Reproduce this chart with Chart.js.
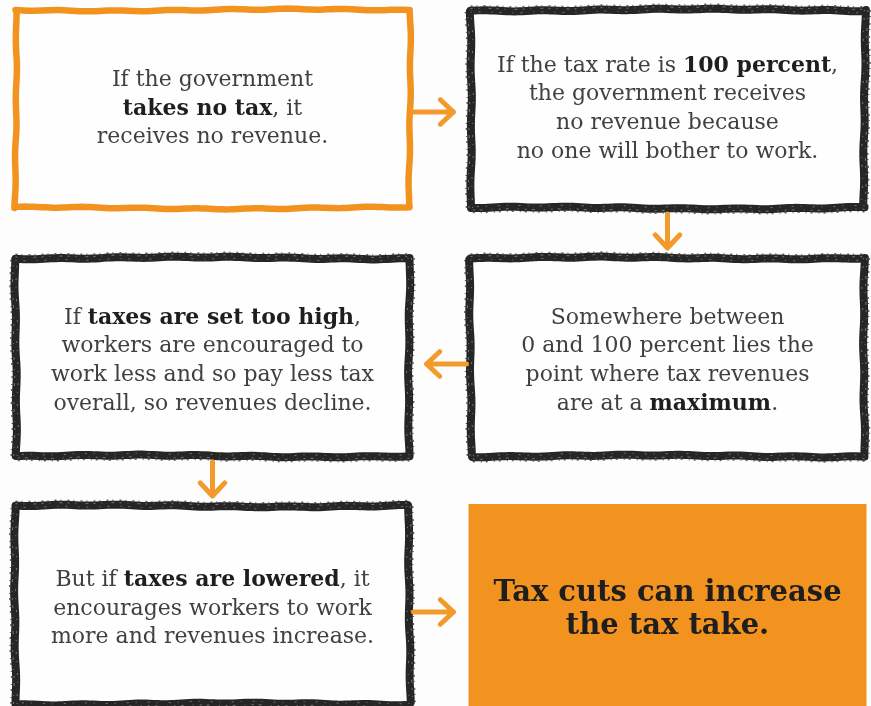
<!DOCTYPE html>
<html>
<head>
<meta charset="utf-8">
<script src="https://cdn.jsdelivr.net/npm/chart.js@4"></script>
<style>
  html, body { margin: 0; padding: 0; background: #fdfdfd; }
  #wrap { width: 871px; height: 706px; position: relative; }
</style>
</head>
<body>
<div id="wrap"><canvas id="flow"></canvas></div>
<script>
// box texts (** marks bold runs), one entry per line
const boxLines = [
  ["If the government", "**takes no tax**, it", "receives no revenue."],
  ["If the tax rate is **100 percent**,", "the government receives", "no revenue because", "no one will bother to work."],
  ["If **taxes are set too high**,", "workers are encouraged to", "work less and so pay less tax", "overall, so revenues decline."],
  ["Somewhere between", "0 and 100 percent lies the", "point where tax revenues", "are at a **maximum**."],
  ["But if **taxes are lowered**, it", "encourages workers to work", "more and revenues increase."],
  ["Tax cuts can increase", "the tax take."]
];
// grid cell of each box
const boxCol = [0, 1, 0, 1, 0, 1];
const boxRow = [0, 0, 1, 1, 2, 2];
const boxKind = ["orange", "chalk", "chalk", "chalk", "chalk", "filled"];
// arrows: from box -> to box
const arrowFrom = [0, 1, 3, 2, 4];
const arrowTo = [1, 3, 2, 4, 5];

const ORANGE = "#f3931f";
const INK = "#262626";
const HALF_W = 197, HALF_H = 99;
const TEXT_DY = [0, 4, 4]; // per row nudge of the text block

// small deterministic wobble
const wob = (t, s) => Math.sin(t * 0.11 + s) * 0.5 + Math.sin(t * 0.017 + s * 2.3) * 0.9;

function wavyLine(ctx, x0, y0, x1, y1, seed, off) {
  const len = Math.hypot(x1 - x0, y1 - y0);
  const nx = -(y1 - y0) / len, ny = (x1 - x0) / len;
  ctx.beginPath();
  for (let t = 0; t <= len; t += 4) {
    const f = t / len, o = wob(t, seed) + (off || 0);
    const x = x0 + (x1 - x0) * f + nx * o, y = y0 + (y1 - y0) * f + ny * o;
    if (t === 0) ctx.moveTo(x, y); else ctx.lineTo(x, y);
  }
  ctx.stroke();
}

function roughRect(ctx, l, t, r, b, kind, seed) {
  const sides = [[l, t, r, t], [r, t, r, b], [r, b, l, b], [l, b, l, t]];
  ctx.save();
  ctx.lineCap = "round";
  if (kind === "orange") {
    ctx.strokeStyle = ORANGE;
    ctx.lineWidth = 6.5;
    sides.forEach((s, i) => wavyLine(ctx, s[0], s[1], s[2], s[3], seed + i * 1.7));
  } else {
    ctx.strokeStyle = INK;
    ctx.lineWidth = 8;
    sides.forEach((s, i) => wavyLine(ctx, s[0], s[1], s[2], s[3], seed + i * 1.7));
    // chalky texture inside the stroke
    ctx.lineCap = "butt";
    ctx.lineWidth = 1;
    ctx.strokeStyle = "rgba(170,170,170,0.6)";
    ctx.setLineDash([2, 6, 1, 9, 3, 5]);
    sides.forEach((s, i) => wavyLine(ctx, s[0], s[1], s[2], s[3], seed + i * 1.7, -2));
    ctx.setLineDash([1, 7, 2, 11]);
    ctx.strokeStyle = "rgba(200,200,200,0.5)";
    sides.forEach((s, i) => wavyLine(ctx, s[0], s[1], s[2], s[3], seed + i * 1.7, 1.5));
    // ragged outer fringe
    ctx.setLineDash([2, 4, 1, 6]);
    ctx.strokeStyle = "rgba(40,40,40,0.7)";
    ctx.lineWidth = 1.5;
    sides.forEach((s, i) => wavyLine(ctx, s[0], s[1], s[2], s[3], seed + i * 1.7, -4.5));
  }
  ctx.restore();
}

function richLine(ctx, line, cx, y, size, color, boldAll) {
  const parts = line.split("**").map((txt, i) => ({ txt, bold: boldAll || i % 2 === 1 }));
  const fontOf = (b) => (b ? "bold " : "") + size + "px 'DejaVu Serif'";
  let w = 0;
  parts.forEach((p) => { ctx.font = fontOf(p.bold); p.w = ctx.measureText(p.txt).width; w += p.w; });
  let x = cx - w / 2;
  parts.forEach((p) => {
    ctx.font = fontOf(p.bold);
    ctx.fillStyle = p.bold ? "#1e1e1e" : color;
    ctx.fillText(p.txt, x, y);
    x += p.w;
  });
}

function arrow(ctx, x0, y0, x1, y1) {
  const a = Math.atan2(y1 - y0, x1 - x0);
  ctx.save();
  ctx.strokeStyle = "#f39a2c";
  ctx.lineWidth = 5;
  ctx.lineCap = "round";
  ctx.lineJoin = "round";
  ctx.beginPath();
  ctx.moveTo(x0, y0);
  ctx.lineTo(x1, y1);
  ctx.moveTo(x1 - 18 * Math.cos(a - 0.75), y1 - 18 * Math.sin(a - 0.75));
  ctx.lineTo(x1, y1);
  ctx.lineTo(x1 - 18 * Math.cos(a + 0.75), y1 - 18 * Math.sin(a + 0.75));
  ctx.stroke();
  ctx.restore();
}

const flowPlugin = {
  id: "flow",
  beforeDraw(chart) {
    const ctx = chart.ctx;
    ctx.save();
    ctx.fillStyle = "#fdfdfd";
    ctx.fillRect(0, 0, chart.width, chart.height);
    ctx.restore();
  },
  afterDatasetsDraw(chart) {
    const ctx = chart.ctx;
    const pts = chart.getDatasetMeta(0).data;
    // boxes
    pts.forEach((p, i) => {
      const l = p.x - HALF_W, r = p.x + HALF_W, t = p.y - HALF_H, b = p.y + HALF_H;
      if (boxKind[i] === "filled") {
        ctx.fillStyle = ORANGE;
        ctx.fillRect(l - 2, t - 2, r - l + 4, b - t + 12);
      } else {
        ctx.fillStyle = "#fefefe";
        ctx.fillRect(l, t, r - l, b - t);
        roughRect(ctx, l, t, r, b, boxKind[i], i * 3.1);
      }
    });
    // arrows
    arrowFrom.forEach((a, k) => {
      const p = pts[a], q = pts[arrowTo[k]];
      if (boxRow[a] === boxRow[arrowTo[k]]) {
        const dir = Math.sign(q.x - p.x);
        const x0 = p.x + dir * (HALF_W + 4);
        arrow(ctx, x0, p.y + 3 + TEXT_DY[boxRow[a]], x0 + dir * 40, p.y + 3 + TEXT_DY[boxRow[a]]);
      } else {
        const y0 = p.y + HALF_H + 6;
        arrow(ctx, p.x, y0, p.x, y0 + 34);
      }
    });
    // texts
    ctx.save();
    ctx.textBaseline = "middle";
    pts.forEach((p, i) => {
      const lines = boxLines[i];
      const filled = boxKind[i] === "filled";
      const size = filled ? 29 : 22;
      const lh = filled ? 33 : 28.7;
      const y0 = p.y + TEXT_DY[boxRow[i]] - ((lines.length - 1) * lh) / 2 + (filled ? 1 : 0);
      lines.forEach((ln, j) => richLine(ctx, ln, p.x, y0 + j * lh, size, "#404040", filled));
    });
    ctx.restore();
  },
};

new Chart(document.getElementById("flow"), {
  type: "scatter",
  data: {
    datasets: [{
      data: boxCol.map((c, i) => ({ x: c, y: boxRow[i] })),
      pointRadius: 0,
      pointHoverRadius: 0,
    }],
  },
  options: {
    responsive: true,
    maintainAspectRatio: false,
    animation: false,
    events: [],
    layout: { padding: 0 },
    plugins: { legend: { display: false }, tooltip: { enabled: false } },
    scales: {
      x: { type: "linear", display: false, min: -212.5 / 455, max: (871 - 212.5) / 455 },
      y: { type: "linear", display: false, reverse: true, min: -109 / 248, max: (706 - 109) / 248 },
    },
  },
  plugins: [flowPlugin],
});
</script>
</body>
</html>
